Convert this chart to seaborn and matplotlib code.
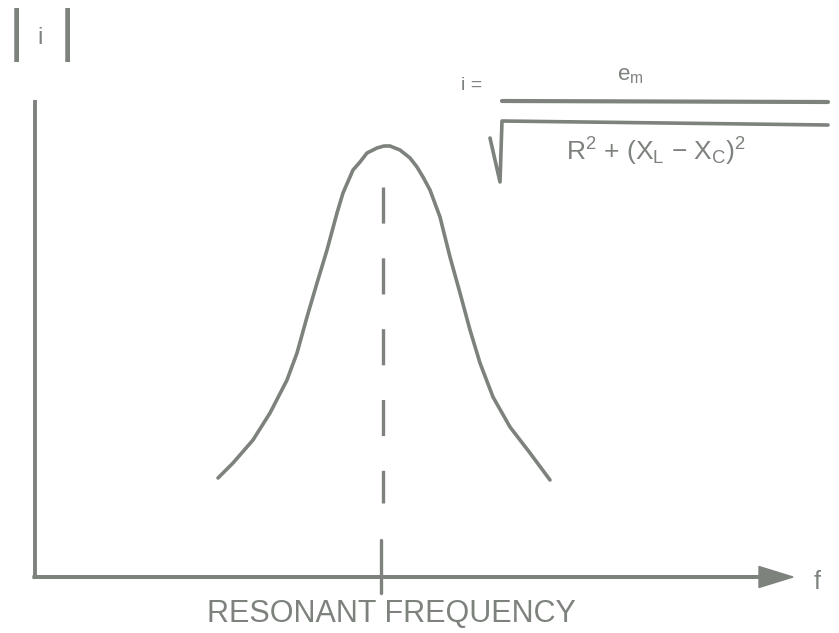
import matplotlib
matplotlib.use("Agg")
import matplotlib.pyplot as plt
import seaborn as sns
import pandas as pd

# Resonance curve |i| vs f (pixel-like units, y up)
freq = [218, 233, 253, 270, 287, 297, 307, 317, 327, 337, 343, 353, 360, 367,
        377, 384, 390, 400, 410, 417, 423, 430, 440, 450, 460, 470, 480, 493,
        510, 530, 550]
current = [155, 170, 193, 220, 253, 280, 316, 350, 383, 420, 440, 463, 471, 480,
           485, 487, 487, 483, 475, 466, 456, 443, 416, 376, 340, 303, 270, 236,
           206, 180, 153]
resonant_freq = 383

x_label = "RESONANT FREQUENCY"
y_label = "i"
f_label = "f"
formula_lhs = "i ="
formula_num = "e$_{m}$"
formula_den = "R$^{2}$ + (X$_{L}$ \u2212 X$_{C}$)$^{2}$"

GRAY = "#7d827d"

sns.set_theme(style="white")
plt.rcParams["font.family"] = ["Liberation Sans", "DejaVu Sans"]
plt.rcParams["mathtext.fontset"] = "custom"
plt.rcParams["mathtext.rm"] = "Liberation Sans"
plt.rcParams["mathtext.it"] = "Liberation Sans"
plt.rcParams["lines.scale_dashes"] = False

df = pd.DataFrame({"freq": freq, "current": current})

fig = plt.figure(figsize=(8.39, 6.33), dpi=100)
ax = fig.add_axes([0, 0, 1, 1])
ax.set_xlim(0, 839)
ax.set_ylim(0, 633)
ax.axis("off")

# curve
sns.lineplot(data=df, x="freq", y="current", sort=False, estimator=None,
             color=GRAY, lw=2.6, ax=ax)

# axes drawn by hand, like the original sketch
ax.plot([35, 35], [56, 533], color=GRAY, lw=2.8, solid_capstyle="butt")
ax.arrow(33, 56, 760, 0, width=2.6, head_width=21, head_length=34,
         length_includes_head=True, color=GRAY)

# resonance marker: dashed guide plus tick on the axis
ax.plot([resonant_freq, resonant_freq], [446, 130], color=GRAY, lw=2.4,
        dashes=(26, 25), solid_capstyle="butt")
ax.plot([resonant_freq - 2, resonant_freq - 2], [93, 40], color=GRAY, lw=2.4)

# labels
ax.text(391, 19, x_label, ha="center", va="center", fontsize=22, color=GRAY)
ax.text(817, 51, f_label, ha="center", va="center", fontsize=18, color=GRAY)
ax.text(16, 598, "|", ha="center", va="center", fontsize=42, color=GRAY)
ax.text(67, 598, "|", ha="center", va="center", fontsize=42, color=GRAY)
ax.text(40, 595, y_label, ha="center", va="center", fontsize=17, color=GRAY)

# formula
ax.text(472, 548, formula_lhs, ha="center", va="center", fontsize=14, color=GRAY)
ax.text(630, 557, formula_num, ha="center", va="center", fontsize=16, color=GRAY)
ax.plot([502, 828], [532, 531], color=GRAY, lw=3)
ax.plot([490, 500, 502, 828], [495, 451, 512, 508], color=GRAY, lw=2.6)
ax.text(656, 481, formula_den, ha="center", va="center", fontsize=19, color=GRAY)

fig.savefig("out.png", dpi=100, facecolor="white")
